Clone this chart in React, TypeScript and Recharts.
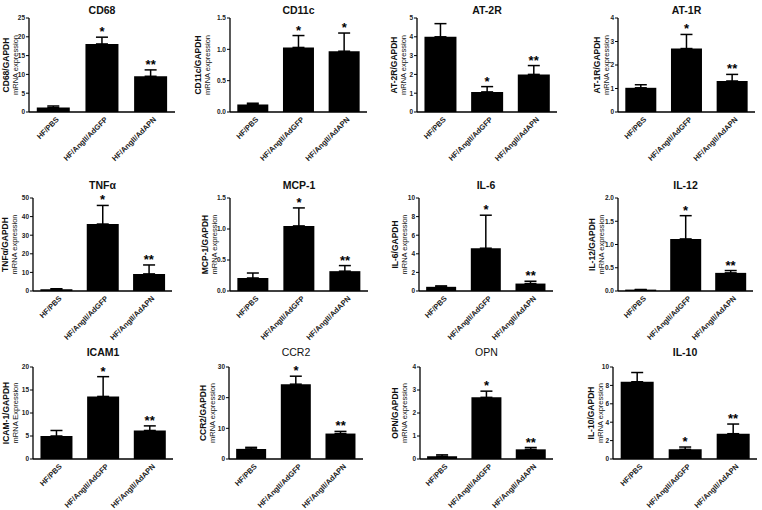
import { ComposedChart, Bar, XAxis, YAxis, ErrorBar, Scatter } from "recharts";

const groups = ["HF/PBS", "HF/AngII/AdGFP", "HF/AngII/AdAPN"];

const titles = ["CD68", "CD11c", "AT-2R", "AT-1R", "TNFα", "MCP-1", "IL-6", "IL-12", "ICAM1", "CCR2", "OPN", "IL-10"];
const yLabels = [
  "CD68/GAPDH", "CD11c/GAPDH", "AT-2R/GAPDH", "AT-1R/GAPDH",
  "TNFα/GAPDH", "MCP-1/GAPDH", "IL-6/GAPDH", "IL-12/GAPDH",
  "ICAM-1/GAPDH", "CCR2/GAPDH", "OPN/GAPDH", "IL-10/GAPDH",
];
const yLabels2 = [
  "mRNA expression", "mRNA expression", "mRNA expression", "mRNA expression",
  "mRNA expression", "mRNA expression", "mRNA expression", "mRNA expression",
  "mRNA Expression", "mRNA expression", "mRNA expression", "mRNA expression",
];

// mean per group
const means = [
  [1.2, 18.1, 9.5],
  [0.12, 1.03, 0.97],
  [4.0, 1.07, 2.0],
  [1.03, 2.7, 1.32],
  [1.0, 36, 9.2],
  [0.21, 1.05, 0.32],
  [0.45, 4.6, 0.8],
  [0.03, 1.12, 0.39],
  [5.0, 13.6, 6.2],
  [3.3, 24.4, 8.3],
  [0.12, 2.68, 0.42],
  [8.4, 1.05, 2.75],
];
// upper error (SEM)
const errors = [
  [0.4, 1.8, 1.7],
  [0.02, 0.19, 0.29],
  [0.7, 0.28, 0.47],
  [0.13, 0.6, 0.28],
  [0.2, 10, 4.8],
  [0.08, 0.29, 0.09],
  [0.1, 3.55, 0.25],
  [0.0, 0.5, 0.05],
  [1.2, 4.3, 1.0],
  [0.5, 2.6, 0.7],
  [0.06, 0.27, 0.08],
  [1.0, 0.25, 1.05],
];
const stars = [
  ["", "*", "**"],
  ["", "*", "*"],
  ["", "*", "**"],
  ["", "*", "**"],
  ["", "*", "**"],
  ["", "*", "**"],
  ["", "*", "**"],
  ["", "*", "**"],
  ["", "*", "**"],
  ["", "*", "**"],
  ["", "*", "**"],
  ["", "*", "**"],
];
const yTicks = [
  [0, 5, 10, 15, 20, 25],
  [0, 0.5, 1, 1.5],
  [0, 1, 2, 3, 4, 5],
  [0, 1, 2, 3, 4],
  [0, 10, 20, 30, 40, 50],
  [0, 0.5, 1, 1.5],
  [0, 2, 4, 6, 8, 10],
  [0, 0.5, 1, 1.5, 2],
  [0, 5, 10, 15, 20],
  [0, 10, 20, 30],
  [0, 1, 2, 3, 4],
  [0, 2, 4, 6, 8, 10],
];
const tickDecimals = [0, 1, 0, 0, 0, 1, 0, 1, 0, 0, 0, 0];

// layout (pixels)
const axisX = [29, 230, 417, 618, 33, 230, 419, 618, 33, 229, 420, 613];
const plotRight = [175, 367, 557, 755, 172, 368, 553, 753, 173, 363, 553, 757];
const rowTop = [18, 198, 367];
const rowBottom = [112, 291, 459];
const titleY = [10, 185, 352];
const labelOff = [14, 23, 14, 12, 19, 16, 15, 17, 18, 17, 16, 13];
const titleBold = [1, 1, 1, 1, 1, 1, 1, 1, 1, 0, 0, 1];

const FONT = "'Liberation Sans', Arial, sans-serif";

const StarShape = (p: any) => {
  const s = p.payload?.star;
  if (!s) return <g />;
  return (
    <text x={p.cx} y={p.cy - 1} textAnchor="middle" fontSize={13} fontWeight="bold" fill="#000" fontFamily={FONT}>
      {s}
    </text>
  );
};

const XTick = (p: any) => (
  <text
    transform={`translate(${p.x + 6},${p.y + 4}) rotate(-45)`}
    textAnchor="end"
    fontSize={7.5}
    fontWeight="bold"
    fill="#222"
    fontFamily={FONT}
  >
    {p.payload.value}
  </text>
);

function Panel({ i }: { i: number }) {
  const L = 48, T = 10, B = 58, R = 4;
  const row = Math.floor(i / 4);
  const pw = plotRight[i] - axisX[i];
  const ph = rowBottom[row] - rowTop[row];
  const data = groups.map((g, j) => ({
    name: g,
    mean: means[i][j],
    err: [0, errors[i][j]],
    top: means[i][j] + errors[i][j],
    star: stars[i][j],
  }));
  const yMax = yTicks[i][yTicks[i].length - 1];
  const off = labelOff[i];
  return (
    <>
      <div
        style={{
          position: "absolute",
          left: axisX[i],
          width: pw,
          top: titleY[row] - 7,
          textAlign: "center",
          fontFamily: FONT,
          fontWeight: titleBold[i] ? "bold" : "normal",
          fontSize: 10.5,
          lineHeight: "14px",
          color: "#111",
        }}
      >
        {titles[i]}
      </div>
      <div style={{ position: "absolute", left: axisX[i] - L, top: rowTop[row] - T }}>
        <ComposedChart
          width={L + pw + R}
          height={T + ph + B}
          data={data}
          margin={{ top: T, right: R, bottom: 0, left: 0 }}
          barCategoryGap="16%"
        >
          <XAxis
            dataKey="name"
            height={B}
            tickLine={false}
            tickSize={2}
            axisLine={{ stroke: "#000", strokeWidth: 1.3 }}
            tick={<XTick />}
            interval={0}
          />
          <YAxis
            width={L}
            domain={[0, yMax]}
            ticks={yTicks[i]}
            tickSize={3}
            tickMargin={1}
            axisLine={{ stroke: "#000", strokeWidth: 1.3 }}
            tickLine={{ stroke: "#000" }}
            tick={{ fontSize: 6.5, fontWeight: "bold", fill: "#222", fontFamily: FONT }}
            tickFormatter={(v: number) => v.toFixed(tickDecimals[i])}
            label={(lp: any) => {
              const vb = lp.viewBox;
              const ax = vb.x + vb.width;
              const cy = vb.y + vb.height / 2;
              const x1 = ax - off - 9 + 3;
              const x2 = ax - off + 3;
              return (
                <g fontFamily={FONT} fill="#111">
                  <text transform={`translate(${x1},${cy}) rotate(-90)`} textAnchor="middle" fontSize={8.5} fontWeight="bold">
                    {yLabels[i]}
                  </text>
                  <text transform={`translate(${x2},${cy}) rotate(-90)`} textAnchor="middle" fontSize={7.5}>
                    {yLabels2[i]}
                  </text>
                </g>
              );
            }}
          />
          <Bar dataKey="mean" fill="#000" isAnimationActive={false}>
            <ErrorBar dataKey="err" direction="y" width={6} stroke="#000" strokeWidth={1.5} />
          </Bar>
          <Scatter dataKey="top" shape={StarShape} isAnimationActive={false} />
        </ComposedChart>
      </div>
    </>
  );
}

export default function App() {
  return (
    <div style={{ position: "absolute", left: 0, top: 0, width: 762, height: 510, background: "#fff" }}>
      {titles.map((_, i) => (
        <Panel key={i} i={i} />
      ))}
    </div>
  );
}
